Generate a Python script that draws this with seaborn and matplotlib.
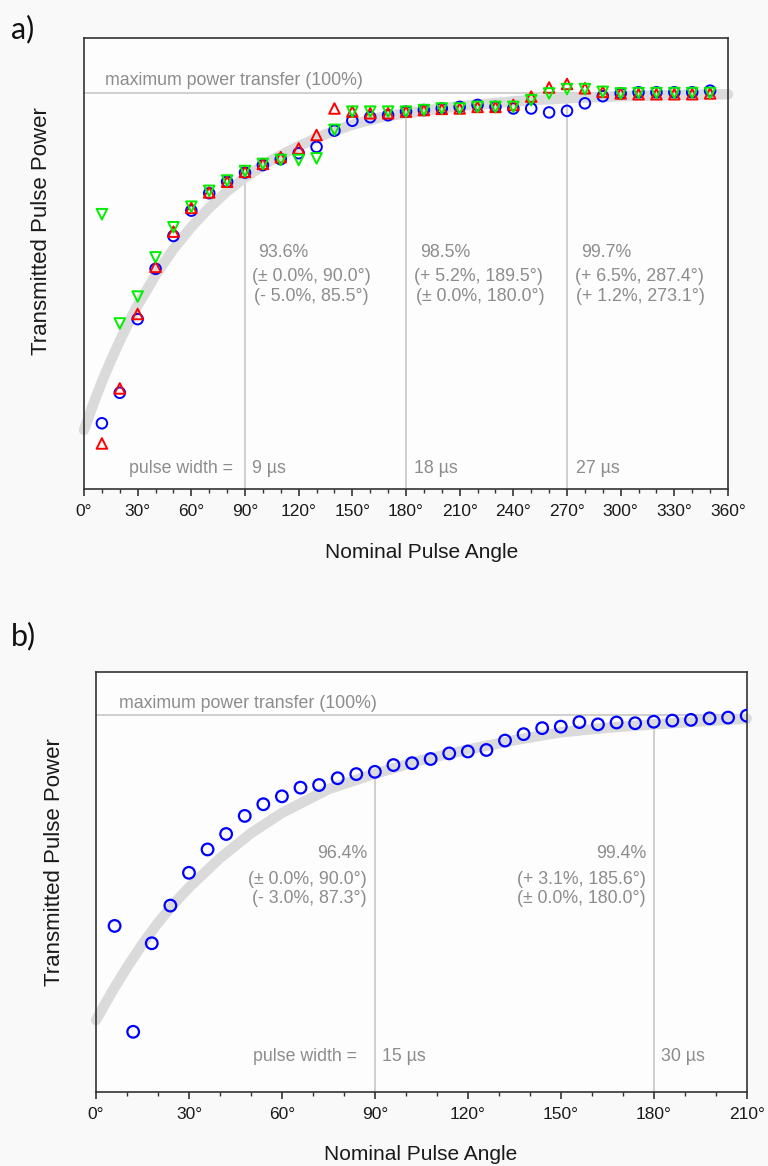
import numpy as np
import pandas as pd
import matplotlib
matplotlib.use("Agg")
import matplotlib.pyplot as plt
import seaborn as sns
from matplotlib.ticker import MultipleLocator, FuncFormatter

# ---------------- data: panel a ----------------
angles_a = list(range(10, 360, 10))
blue_a = [16.6, 24.3, 42.9, 55.6, 63.9, 70.3, 74.7, 77.6, 79.9, 81.8,
          83.3, 84.8, 86.4, 90.5, 93.0, 93.9, 94.4, 95.3, 95.7, 96.1,
          96.5, 97.0, 96.5, 96.1, 96.1, 95.1, 95.5, 97.4, 99.2, 99.9,
          100.2, 100.2, 100.2, 100.2, 100.6]
red_a = [11.5, 25.4, 44.2, 56.1, 65.0, 71.0, 74.9, 77.6, 80.1, 82.1,
         83.8, 86.0, 89.4, 96.1, 95.3, 94.9, 94.9, 95.3, 95.7, 96.0,
         96.1, 96.5, 96.5, 97.0, 99.1, 101.4, 102.3, 101.2, 100.3, 99.9,
         99.7, 99.7, 99.7, 99.7, 99.9]
green_a = [69.4, 41.8, 48.6, 58.5, 66.1, 71.3, 75.3, 77.9, 80.3, 82.1,
           83.1, 83.1, 83.5, 90.7, 95.3, 95.3, 95.3, 95.3, 95.7, 96.1,
           96.1, 96.5, 96.5, 96.5, 98.2, 99.9, 101.0, 101.0, 100.3, 99.9,
           100.0, 100.0, 100.0, 100.0, 100.0]
curve_a_angle = [0, 5, 10, 15, 20, 25, 30, 40, 50, 60, 70, 80, 90, 105, 120,
                 135, 150, 165, 180, 210, 240, 270, 300, 330, 360]
curve_a = [14.9, 21.2, 27.1, 32.4, 37.4, 42.1, 46.4, 54.0, 60.6, 66.2, 71.0,
           75.2, 78.7, 83.1, 86.6, 89.6, 92.0, 93.8, 94.9, 96.7, 97.9, 98.7,
           99.2, 99.5, 99.7]
marks_a = [90, 180, 270]
marks_a_level = [78.7, 94.9, 98.7]
widths_a = ["9 µs", "18 µs", "27 µs"]
notes_a = [["93.6%", "(± 0.0%, 90.0°)", "(- 5.0%, 85.5°)"],
           ["98.5%", "(+ 5.2%, 189.5°)", "(± 0.0%, 180.0°)"],
           ["99.7%", "(+ 6.5%, 287.4°)", "(+ 1.2%, 273.1°)"]]

# ---------------- data: panel b ----------------
angles_b = list(range(6, 211, 6))
blue_b = [44.0, 15.9, 39.4, 49.4, 58.1, 64.3, 68.4, 73.2, 76.3, 78.4,
          80.7, 81.4, 83.2, 84.3, 84.9, 86.7, 87.2, 88.3, 89.8, 90.3,
          90.7, 93.2, 94.9, 96.5, 96.9, 98.1, 97.5, 98.0, 97.8, 98.2,
          98.5, 98.7, 99.1, 99.3, 99.8]
curve_b_angle = [0, 5, 10, 15, 20, 25, 30, 40, 50, 60, 75, 90, 105, 120,
                 135, 150, 165, 180, 195, 210]
curve_b = [19.0, 26.3, 33.0, 39.2, 44.8, 49.8, 54.2, 62.0, 68.6, 74.0, 80.3,
           84.4, 88.0, 90.8, 93.3, 95.4, 96.6, 97.5, 98.3, 99.0]
marks_b = [90, 180]
marks_b_level = [84.4, 97.5]
widths_b = ["15 µs", "30 µs"]
notes_b = [["96.4%", "(± 0.0%, 90.0°)", "(- 3.0%, 87.3°)"],
           ["99.4%", "(+ 3.1%, 185.6°)", "(± 0.0%, 180.0°)"]]

# ---------------- style ----------------
sns.set_theme(style="white")
plt.rcParams["font.family"] = ["Liberation Sans", "DejaVu Sans"]

W, H = 768, 1166
fig = plt.figure(figsize=(W / 100, H / 100), dpi=100)
fig.patch.set_facecolor("#f9f9f9")

NOTE = "#8c8c8c"
GRID = "#c8c8c8"
AX = "#333333"
FS_NOTE = 12.8


def px(x, y):
    return x / W, 1 - y / H


def ftext(x, y, s, **kw):
    kw.setdefault("color", NOTE)
    kw.setdefault("fontsize", FS_NOTE)
    kw.setdefault("va", "baseline")
    fig.text(*px(x, y), s, **kw)


def style_axes(ax, xmax, ymax):
    ax.set_facecolor("#fdfdfd")
    ax.set_xlim(0, xmax)
    ax.set_ylim(0, ymax)
    for sp in ax.spines.values():
        sp.set_visible(True)
        sp.set_color(AX)
        sp.set_linewidth(1.2)
    ax.xaxis.set_major_locator(MultipleLocator(30))
    ax.xaxis.set_minor_locator(MultipleLocator(10))
    ax.xaxis.set_major_formatter(FuncFormatter(lambda v, p: f"{int(round(v))}°"))
    ax.tick_params(axis="x", which="major", direction="out", length=5, width=1.2,
                   color=AX, labelsize=12.5, labelcolor="#1a1a1a", pad=6, bottom=True)
    ax.tick_params(axis="x", which="minor", direction="out", length=3, width=1.0,
                   color=AX, bottom=True)
    ax.set_yticks([])
    ax.set_xlabel("")
    ax.set_ylabel("")


def draw(ax, curve_x, curve_y, marks, levels):
    ax.axhline(100, color=GRID, lw=1.2, zorder=1)
    ax.vlines(marks, 0, levels, color=GRID, lw=1.2, zorder=1)
    sns.lineplot(x=curve_x, y=curve_y, ax=ax, color="#dadada", lw=7.5,
                 zorder=2, legend=False)
    for line in ax.lines:
        line.set_solid_capstyle("round")
        line.set_clip_on(False)


# ---------------- panel a ----------------
axa = fig.add_axes([84 / W, 1 - 489 / H, (728 - 84) / W, (489 - 38) / H])
style_axes(axa, 360, 113.9)
draw(axa, curve_a_angle, curve_a, marks_a, marks_a_level)
sns.scatterplot(x=angles_a, y=blue_a, ax=axa, marker="o", s=58, facecolors="none",
                edgecolor="#0000ff", linewidth=1.4, zorder=3, legend=False)
sns.scatterplot(x=angles_a, y=red_a, ax=axa, marker="^", s=58, facecolors="none",
                edgecolor="#ff0000", linewidth=1.4, zorder=4, legend=False)
sns.scatterplot(x=angles_a, y=green_a, ax=axa, marker="v", s=58, facecolors="none",
                edgecolor="#00ee00", linewidth=1.4, zorder=5, legend=False)

ftext(105, 85, "maximum power transfer (100%)")
ftext(129, 473.3, "pulse width =")
xs_a = [245, 407, 568]
for xl, lab, nt in zip(xs_a, widths_a, notes_a):
    ftext(xl + 7.5, 473.3, lab)
    ftext(xl + 13, 256.7, nt[0])
    ftext(xl + 7, 280.7, nt[1])
    ftext(xl + 8.5, 300.7, nt[2])

fig.text(*px(422, 553), "Nominal Pulse Angle", fontsize=15, color="#1a1a1a",
         ha="center", va="center")
fig.text(*px(42, 231), "Transmitted Pulse Power", fontsize=16, color="#1a1a1a",
         ha="center", va="center", rotation=90)
fig.text(*px(11, 29), "a)", fontsize=22, color="#111111", ha="left", va="center",
         family=["Lato", "DejaVu Sans"])

# ---------------- panel b ----------------
axb = fig.add_axes([96 / W, 1 - 1091.7 / H, (746.7 - 96) / W, (1091.7 - 672) / H])
style_axes(axb, 210, 111.4)
draw(axb, curve_b_angle, curve_b, marks_b, marks_b_level)
sns.scatterplot(x=angles_b, y=blue_b, ax=axb, marker="o", s=70, facecolors="none",
                edgecolor="#0000ff", linewidth=1.6, zorder=3, legend=False)

ftext(119, 708.3, "maximum power transfer (100%)")
ftext(356.7, 1060.7, "pulse width =", ha="right")
xs_b = [375, 654]
for xl, lab, nt in zip(xs_b, widths_b, notes_b):
    ftext(xl + 7, 1060.7, lab)
    ftext(xl - 8, 858.3, nt[0], ha="right")
    ftext(xl - 8, 884, nt[1], ha="right")
    ftext(xl - 8, 902.7, nt[2], ha="right")

fig.text(*px(421, 1155), "Nominal Pulse Angle", fontsize=15, color="#1a1a1a",
         ha="center", va="center")
fig.text(*px(55, 862), "Transmitted Pulse Power", fontsize=16, color="#1a1a1a",
         ha="center", va="center", rotation=90)
fig.text(*px(11, 636), "b)", fontsize=22, color="#111111", ha="left", va="center",
         family=["Lato", "DejaVu Sans"])

fig.savefig("out.png", dpi=100, facecolor=fig.get_facecolor())
